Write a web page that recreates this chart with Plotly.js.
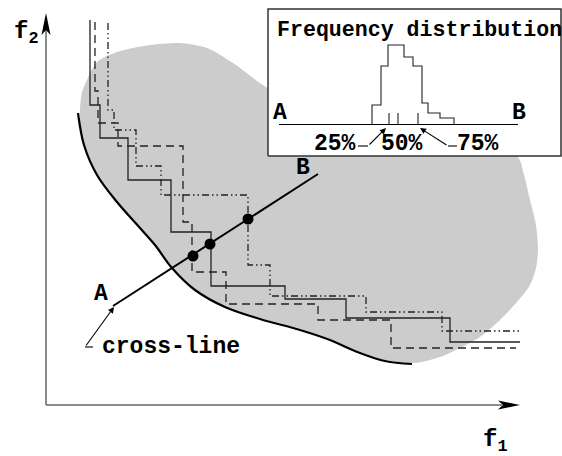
<!DOCTYPE html>
<html>
<head>
<meta charset="utf-8">
<script src="https://cdn.plot.ly/plotly-3.0.1.min.js"></script>
<style>html,body{margin:0;padding:0;background:#fff;}#chart{width:562px;height:456px;}</style>
</head>
<body>
<div id="chart"></div>
<script>
// ---- data (f1 / f2 units) ----
const solidF1   = [44, 54, 82, 125, 165, 239, 300, 404, 474];
const solidF2   = [385, 300, 267, 225, 173, 119, 106, 87, 63];
const dashedF1  = [49, 52, 72, 137, 146, 180, 272, 345, 470];
const dashedF2  = [383, 314, 282, 259, 183, 133, 101, 85, 57];
const dashDotF1 = [62, 68, 90, 115, 202, 224, 320, 396, 475];
const dashDotF2 = [382, 295, 275, 239, 210, 140, 109, 93, 74];

const frontF1 = [32, 38, 51, 71, 94, 109, 126, 149, 179, 214, 254, 284, 309, 339, 366];
const frontF2 = [292, 260, 230, 203, 177, 160, 137, 115, 98, 86, 75, 65, 54, 44, 41];

const regionF1 = [34,36,41,51,71,104,134,161,187,214,234,304,404,471,478,484,490,492,490,484,471,454,434,414,394,368,339,309,284,254,214,179,149,126,109,94,71,51,38,34];
const regionF2 = [297,313,325,343,353,360,362,357,342,322,310,285,265,249,230,205,180,155,137,120,103,85,68,57,48,42,45,55,66,76,87,99,116,138,161,178,204,231,261,280];

const crossF1 = [67, 272];
const crossF2 = [99, 231];
const hitF1 = [147, 164, 202];
const hitF2 = [149, 161, 186];

const binEdges  = [326, 335, 342, 358, 367, 376, 382, 394, 408];
const binCounts = [20, 59, 80, 68, 59, 22, 12, 7];
const quartiles = [343, 352, 372];
const quartileLabels = ['25%', '50%', '75%'];

// ---- build ----
const FONT = 'Liberation Mono, Courier New, monospace';
const ink = '#222';

const histX = [binEdges[0]], histY = [0];
for (let i = 0; i < binCounts.length; i++) { histX.push(binEdges[i]); histY.push(binCounts[i]); }
histX.push(binEdges[binEdges.length - 1]); histY.push(binCounts[binCounts.length - 1]);
histX.push(binEdges[binEdges.length - 1]); histY.push(0);

const qX = [], qY = [];
quartiles.forEach(q => { qX.push(q, q, null); qY.push(0, 12, null); });

const traces = [
  {x: regionF1, y: regionF2, mode: 'lines', fill: 'toself', fillcolor: '#cccccc',
   line: {width: 0, shape: 'spline', smoothing: 0.8, color: 'rgba(0,0,0,0)'}, hoverinfo: 'skip'},
  {x: [222, 515, 515, 222, 222], y: [249, 249, 396, 396, 249], mode: 'lines', fill: 'toself',
   fillcolor: '#ffffff', line: {width: 1.5, color: '#333'}, hoverinfo: 'skip'},
  {x: frontF1, y: frontF2, mode: 'lines', line: {color: '#000', width: 2.2, shape: 'spline', smoothing: 1}},
  {x: solidF1, y: solidF2, mode: 'lines', line: {color: ink, width: 1.3, shape: 'vh'}},
  {x: dashedF1, y: dashedF2, mode: 'lines', line: {color: ink, width: 1.3, shape: 'vh', dash: '8px,5px'}},
  {x: dashDotF1, y: dashDotF2, mode: 'lines', line: {color: ink, width: 1.3, shape: 'vh', dash: '7px,3px,1.5px,3px,1.5px,3px'}},
  {x: crossF1, y: crossF2, mode: 'lines', line: {color: '#000', width: 2}},
  {x: hitF1, y: hitF2, mode: 'markers', marker: {color: '#000', size: 11}},
  {x: histX, y: histY, xaxis: 'x2', yaxis: 'y2', mode: 'lines', line: {color: ink, width: 1.1, shape: 'hv'}},
  {x: qX, y: qY, xaxis: 'x2', yaxis: 'y2', mode: 'lines', line: {color: ink, width: 1.1}},
  {x: [233, 472], y: [0, 0], xaxis: 'x2', yaxis: 'y2', mode: 'lines', line: {color: '#000', width: 2}}
];

function label(text, x, y, size, xanchor) {
  return {text: text, x: x, y: y, xref: 'x', yref: 'y', showarrow: false,
          xanchor: xanchor || 'center', yanchor: 'middle',
          font: {family: FONT, size: size, color: '#000', weight: 'bold'}};
}
function arrow(x, y, ax, ay) {
  return {text: '', x: x, y: y, ax: ax, ay: ay, xref: 'x', yref: 'y', axref: 'x', ayref: 'y',
          showarrow: true, arrowhead: 2, arrowsize: 1.1, arrowwidth: 1.1, arrowcolor: '#000'};
}

const annotations = [
  label('f<sub>2</sub>', -34, 372, 24, 'left'),
  label('f<sub>1</sub>', 435, -36, 24, 'left'),
  label('A', 55, 111, 23),
  label('B', 257, 237, 23),
  label('cross-line', 54, 58, 23, 'left'),
  label('Frequency distribution', 229, 375, 21.6, 'left'),
  label('A', 234, 292, 23),
  label('B', 473, 292, 23),
  label(quartileLabels[0], 289, 261, 23),
  label(quartileLabels[1], 356, 261, 23),
  label(quartileLabels[2], 432, 261, 23),
  arrow(68, 98, 39, 58),
  arrow(340, 277, 322, 259),
  arrow(374, 277, 402, 259)
];

function seg(x0, y0, x1, y1, color, w) {
  return {type: 'line', xref: 'x', yref: 'y', x0: x0, y0: y0, x1: x1, y1: y1,
          line: {color: color, width: w}, layer: 'above'};
}
const shapes = [
  seg(0, 0, 456, 0, '#666', 1.5),
  seg(0, 0, 0, 376, '#666', 1.5),
  {type: 'path', xref: 'x', yref: 'y', path: 'M474,0 L452,-4.5 L457,0 L452,4.5 Z',
   fillcolor: '#000', line: {width: 0}, layer: 'above'},
  {type: 'path', xref: 'x', yref: 'y', path: 'M0,392 L-4.5,370 L0,375 L4.5,370 Z',
   fillcolor: '#000', line: {width: 0}, layer: 'above'},
  seg(39, 58, 47, 58, '#000', 1.1),
  seg(312, 259, 322, 259, '#000', 1.1),
  seg(411, 259, 402, 259, '#000', 1.1)
];

const layout = {
  width: 562, height: 456,
  margin: {l: 0, r: 0, t: 0, b: 0},
  paper_bgcolor: '#fff', plot_bgcolor: 'rgba(0,0,0,0)',
  showlegend: false,
  xaxis: {range: [-46, 516], visible: false, fixedrange: true},
  yaxis: {range: [-51, 405], visible: false, fixedrange: true},
  xaxis2: {range: [-46, 516], visible: false, anchor: 'y2', domain: [0, 1]},
  yaxis2: {range: [0, 116], visible: false, anchor: 'x2', domain: [331/456, 447/456]},
  annotations: annotations,
  shapes: shapes
};

Plotly.newPlot('chart', traces, layout, {displayModeBar: false, staticPlot: true});
</script>
</body>
</html>
